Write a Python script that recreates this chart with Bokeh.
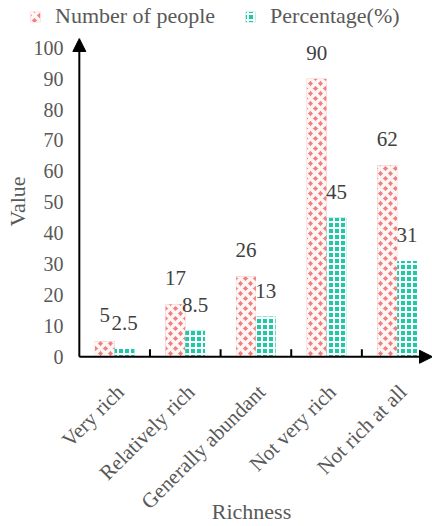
import math
from bokeh.plotting import figure
from bokeh.models import (ColumnDataSource, Range1d, FixedTicker, LabelSet, Arrow,
                          NormalHead, Legend, LegendItem)
from bokeh.transform import dodge
from bokeh.core.properties import value
from bokeh.embed import file_html
from bokeh.resources import INLINE

categories = ["Very rich", "Relatively rich", "Generally abundant", "Not very rich", "Not rich at all"]
people = [5, 17, 26, 90, 62]
percentage = [2.5, 8.5, 13, 45, 31]
y_ticks = list(range(0, 101, 10))

PINK = "#F08080"
TEAL = "#1DC9A6"
FONT = "Liberation Serif"
GRAY = "#595959"

pink_style = dict(fill_color=PINK, line_color=None, hatch_pattern="diagonal_cross",
                  hatch_color="#FFF6F6", hatch_scale=10, hatch_weight=3.5)
teal_style = dict(fill_color=TEAL, line_color=None, hatch_pattern="cross",
                  hatch_color="white", hatch_scale=6, hatch_weight=2)

n = len(categories)
xpos = [i + 0.5 for i in range(n)]
source = ColumnDataSource(dict(
    x=xpos, people=people, pct=percentage,
    people_txt=[f"{v:g}" for v in people],
    pct_txt=[f"{v:g}" for v in percentage],
))

x_start, x_end = -0.125, n
y_start, y_end = -2.5, 103

p = figure(frame_width=362, frame_height=326, output_backend="svg", toolbar_location=None,
           x_range=Range1d(x_start, x_end), y_range=Range1d(y_start, y_end),
           min_border_left=70, min_border_right=0, min_border_top=0, min_border_bottom=162)
p.outline_line_color = None
p.grid.grid_line_color = None

bw = 0.28
r1 = p.vbar(x=dodge("x", -bw / 2), top="people", width=bw, source=source, **pink_style)
r2 = p.vbar(x=dodge("x", bw / 2), top="pct", width=bw, source=source, **teal_style)

for col, txt, off in (("people", "people_txt", -bw / 2), ("pct", "pct_txt", bw / 2)):
    p.add_layout(LabelSet(x=dodge("x", off), y=col, text=txt, source=source,
                          text_align="center", text_baseline="bottom", y_offset=19,
                          text_font=value(FONT), text_font_size="21px", text_color="#404040"))

# category boundary tick marks (pointing up from the x axis line)
tick_len = 2.4
bounds = list(range(1, n))
p.segment(x0=bounds, y0=[0] * len(bounds), x1=bounds, y1=[tick_len] * len(bounds),
          line_color="black", line_width=2)

xa = p.xaxis[0]
xa.ticker = FixedTicker(ticks=[x + 0.08 for x in xpos])
xa.major_label_overrides = {x + 0.08: c for x, c in zip(xpos, categories)}
xa.major_label_orientation = math.pi / 4
xa.major_tick_line_color = None
xa.major_tick_in = 0
xa.major_tick_out = 0
xa.minor_tick_line_color = None
xa.axis_line_color = None
xa.major_label_standoff = 24
xa.major_label_text_font = FONT
xa.major_label_text_font_size = "21px"
xa.major_label_text_color = GRAY
xa.axis_label = "Richness"
xa.axis_label_text_font = FONT
xa.axis_label_text_font_size = "22px"
xa.axis_label_text_font_style = "normal"
xa.axis_label_text_color = GRAY
xa.axis_label_standoff = -26

ya = p.yaxis[0]
ya.ticker = FixedTicker(ticks=y_ticks)
ya.minor_tick_line_color = None
ya.major_tick_line_color = None
ya.major_tick_out = 0
ya.major_tick_in = 0
ya.axis_line_color = None
ya.major_label_standoff = 7
ya.major_label_text_font = FONT
ya.major_label_text_font_size = "20px"
ya.major_label_text_color = GRAY
ya.axis_label = "Value"
ya.axis_label_text_font = FONT
ya.axis_label_text_font_size = "22px"
ya.axis_label_text_font_style = "normal"
ya.axis_label_text_color = GRAY
ya.axis_label_standoff = 1

head = dict(size=13, fill_color="black", line_color="black")
p.add_layout(Arrow(x_start=0, y_start=0, x_end=x_end, y_end=0, line_width=2,
                   line_color="black", end=NormalHead(**head)))
p.add_layout(Arrow(x_start=0, y_start=0, x_end=0, y_end=y_end, line_width=2,
                   line_color="black", end=NormalHead(**head)))

# legend strip on top (proxy bars lie outside its visible range)
lf = figure(width=432, height=38, output_backend="svg", toolbar_location=None,
            x_range=Range1d(-100, -99), y_range=Range1d(-100, -99), min_border=0,
            x_axis_location=None, y_axis_location=None)
lf.grid.grid_line_color = None
lf.outline_line_color = None
l1 = lf.vbar(x="x", top="people", width=bw, source=source, **pink_style)
l2 = lf.vbar(x="x", top="pct", width=bw, source=source, **teal_style)
legend = Legend(items=[LegendItem(label="Number of people", renderers=[l1]),
                       LegendItem(label="Percentage(%)", renderers=[l2])],
                orientation="horizontal", location=(29, 9),
                glyph_width=12, glyph_height=13, label_standoff=14, spacing=29,
                padding=0, margin=0, border_line_color=None, background_fill_alpha=0,
                label_text_font=FONT, label_text_font_size="22px", label_text_color=GRAY)
lf.add_layout(legend)

open("out.html", "w").write(file_html([lf, p], INLINE))
